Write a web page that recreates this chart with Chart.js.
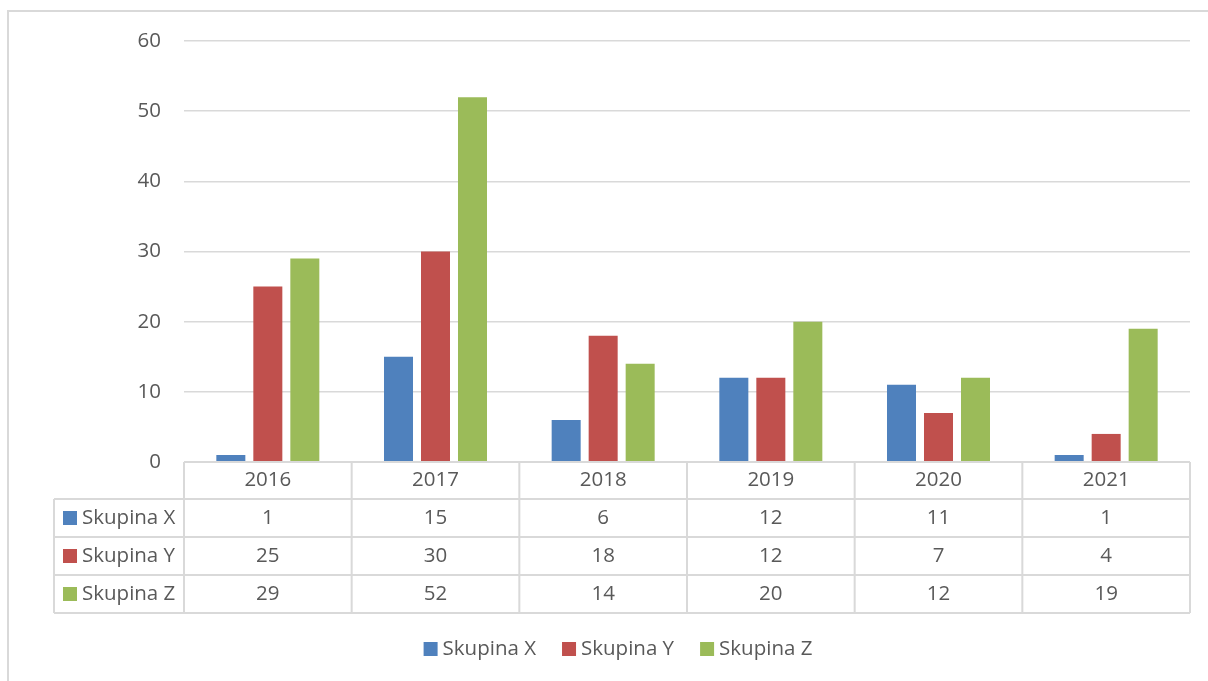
<!DOCTYPE html>
<html>
<head>
<meta charset="utf-8">
<script src="https://cdn.jsdelivr.net/npm/chart.js@4"></script>
<style>
  body { margin: 0; background: #fff; }
  #wrap { width: 1208px; height: 681px; }
</style>
</head>
<body>
<div id="wrap"><canvas id="skupinyChart" width="1208" height="681"></canvas></div>
<script>
const years = ['2016', '2017', '2018', '2019', '2020', '2021'];
const groupNames = ['Skupina X', 'Skupina Y', 'Skupina Z'];
const skupinaX = [1, 15, 6, 12, 11, 1];
const skupinaY = [25, 30, 18, 12, 7, 4];
const skupinaZ = [29, 52, 14, 20, 12, 19];
const yTicks = [0, 10, 20, 30, 40, 50, 60];

const colors = ['#4F81BD', '#C0504D', '#9BBB59'];
const textColor = '#595959';
const lineColor = '#d9d9d9';
const font = '"Open Sans", sans-serif';
const fontSize = 20.5;

// data table + legend under the plot, Excel style
const tablePlugin = {
    id: 'dataTable',
    afterDraw(chart) {
        const c = chart.ctx;
        const area = chart.chartArea;
        const xs = chart.scales.x;
        const n = years.length;
        const colW = (area.right - area.left) / n;
        const rowTop = area.bottom;
        const headH = 37, rowH = 38;
        const labelLeft = 54;
        const series = chart.data.datasets;
        const bottom = rowTop + headH + rowH * series.length;

        c.save();
        // outer frame
        c.strokeStyle = lineColor;
        c.lineWidth = 2;
        c.strokeRect(8, 11, 1230, 720);

        // grid of the table
        c.beginPath();
        c.moveTo(area.left, rowTop);
        c.lineTo(area.right, rowTop);
        for (let r = 0; r <= series.length; r++) {
            const y = rowTop + headH + r * rowH;
            c.moveTo(labelLeft, y);
            c.lineTo(area.right, y);
        }
        for (let i = 0; i <= n; i++) {
            const x = area.left + i * colW;
            c.moveTo(x, rowTop);
            c.lineTo(x, bottom);
        }
        c.moveTo(labelLeft, rowTop + headH);
        c.lineTo(labelLeft, bottom);
        c.stroke();

        c.font = fontSize + 'px ' + font;
        c.fillStyle = textColor;
        c.textBaseline = 'middle';
        c.textAlign = 'center';
        years.forEach((yr, i) => {
            c.fillText(yr, xs.getPixelForValue(i), rowTop + headH / 2);
        });
        series.forEach((ds, r) => {
            const cy = rowTop + headH + r * rowH + rowH / 2;
            c.fillStyle = ds.backgroundColor;
            c.fillRect(63, cy - 7, 14, 14);
            c.fillStyle = textColor;
            c.textAlign = 'left';
            c.fillText(ds.label, 82, cy);
            c.textAlign = 'center';
            ds.data.forEach((v, i) => {
                c.fillText(String(v), xs.getPixelForValue(i), cy);
            });
        });

        // legend
        const legendY = 649;
        const gap = 26, box = 14, boxGap = 5;
        const widths = series.map(ds => box + boxGap + c.measureText(ds.label).width);
        const total = widths.reduce((a, b) => a + b, 0) + gap * (series.length - 1);
        let x = 618 - total / 2;
        c.textAlign = 'left';
        series.forEach((ds, i) => {
            c.fillStyle = ds.backgroundColor;
            c.fillRect(x, legendY - 7, box, box);
            c.fillStyle = textColor;
            c.fillText(ds.label, x + box + boxGap, legendY);
            x += widths[i] + gap;
        });
        c.restore();
    }
};

const ctx = document.getElementById('skupinyChart').getContext('2d');
new Chart(ctx, {
    type: 'bar',
    data: {
        labels: years,
        datasets: [
            { label: groupNames[0], data: skupinaX, backgroundColor: colors[0] },
            { label: groupNames[1], data: skupinaY, backgroundColor: colors[1] },
            { label: groupNames[2], data: skupinaZ, backgroundColor: colors[2] }
        ]
    },
    options: {
        responsive: false,
        animation: false,
        devicePixelRatio: 1,
        layout: { padding: { left: 0, top: 41, right: 18, bottom: 219 } },
        datasets: {
            bar: { categoryPercentage: 0.662, barPercentage: 0.784 }
        },
        scales: {
            x: { display: false },
            y: {
                min: 0,
                max: 60,
                afterBuildTicks(scale) {
                    scale.ticks = yTicks.map(v => ({ value: v }));
                },
                afterFit(scale) { scale.width = 184; },
                border: { display: false },
                grid: { color: lineColor, lineWidth: 1.5, drawTicks: false },
                ticks: {
                    padding: 23,
                    color: textColor,
                    font: { family: font, size: fontSize }
                }
            }
        },
        plugins: {
            legend: { display: false },
            tooltip: { enabled: false }
        }
    },
    plugins: [tablePlugin]
});
</script>
</body>
</html>
